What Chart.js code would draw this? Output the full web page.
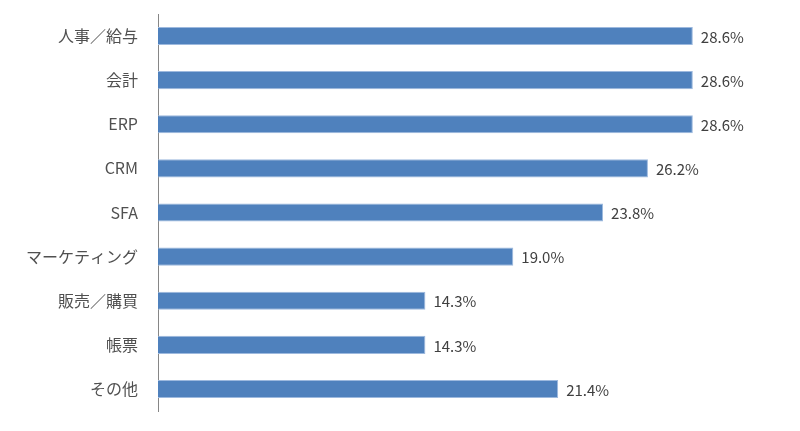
<!DOCTYPE html>
<html><head><meta charset="utf-8">
<script src="https://cdn.jsdelivr.net/npm/chart.js@4"></script>
<style>html,body{margin:0;padding:0;background:#fff}#wrap{width:800px;height:431px}</style>
</head><body><div id="wrap"><canvas id="c"></canvas></div>
<script>
const categories = ["人事／給与","会計","ERP","CRM","SFA","マーケティング","販売／購買","帳票","その他"];
const values = [28.6,28.6,28.6,26.2,23.8,19.0,14.3,14.3,21.4];
const FONT = "'Noto Sans CJK JP','Noto Sans',sans-serif";
const valueLabels = {
  id:'valueLabels',
  afterDatasetsDraw(chart){
    const ctx = chart.ctx;
    const meta = chart.getDatasetMeta(0);
    ctx.save();
    ctx.font = "15px " + FONT;
    ctx.fillStyle = '#404040';
    ctx.textAlign = 'left';
    ctx.textBaseline = 'middle';
    meta.data.forEach((bar,i)=>{
      ctx.fillText(values[i].toFixed(1)+'%', bar.x+8, bar.y+1);
    });
    ctx.restore();
  }
};
new Chart(document.getElementById('c'),{
  type:'bar',
  data:{labels:categories,datasets:[{data:values,backgroundColor:'#4F81BD',borderColor:'#9DB9DE',borderWidth:1,barPercentage:0.41,categoryPercentage:1}]},
  options:{
    indexAxis:'y',responsive:true,maintainAspectRatio:false,animation:false,
    layout:{padding:{top:14,bottom:20,right:81,left:0}},
    plugins:{legend:{display:false},tooltip:{enabled:false}},
    scales:{
      x:{display:false,min:0,max:30},
      y:{
        grid:{display:false,drawTicks:false},
        border:{display:true,color:'#868686',width:1},
        ticks:{padding:20,color:'#505050',font:{family:FONT,size:16}},
        afterFit(s){s.width=158;s.paddingTop=0;s.paddingBottom=0;}
      }
    }
  },
  plugins:[valueLabels]
});
</script></body></html>
